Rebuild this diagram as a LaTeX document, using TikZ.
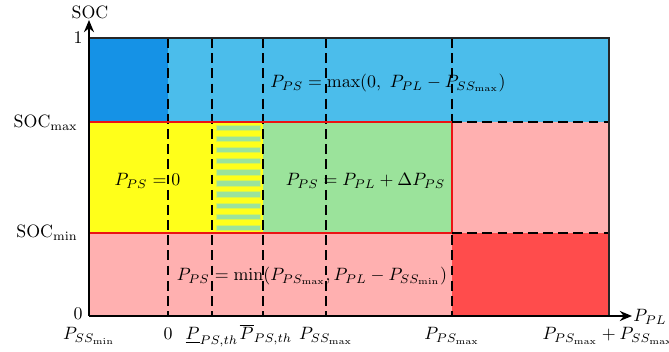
\documentclass[tikz,border=0pt]{standalone}
\usetikzlibrary{arrows.meta}
\definecolor{dblue}{RGB}{21,146,230}
\definecolor{lblue}{RGB}{75,189,235}
\definecolor{yel}{RGB}{255,255,26}
\definecolor{grn}{RGB}{155,227,155}
\definecolor{pnk}{RGB}{255,176,176}
\definecolor{rd}{RGB}{255,76,76}
\definecolor{bord}{RGB}{235,20,20}
\tikzset{
  dashline/.style={black, line width=0.65pt, dash pattern=on 5.5pt off 3pt},
  axisline/.style={black, line width=1.5pt, -{Stealth[length=6.8pt,width=5.6pt]}},
  frameline/.style={black!85, line width=1.1pt},
  redline/.style={bord, line width=1.1pt},
  bar/.style={fill=grn, draw=yel!60!grn, line width=0.4pt},
  lab/.style={inner sep=0pt},
}
\begin{document}
\begin{tikzpicture}[x=0.56pt,y=-0.56pt]
\useasboundingbox (0,0) rectangle (669,352);
% fills
\fill[lblue] (89,38) rectangle (609,122);
\fill[dblue] (89,38) rectangle (168,122);
\fill[yel] (89,122) rectangle (263,233);
\fill[grn] (263,122) rectangle (452,233);
\fill[pnk] (452,122) rectangle (609,233);
\fill[pnk] (89,233) rectangle (452,316);
\fill[rd] (452,233) rectangle (609,316);
% stripes
\foreach \y in {125,136,147,158,169.5,180.5,191.5,203,214,225}
  \filldraw[bar] (216,\y) rectangle (260,\y+5.5);
% coordinates
\coordinate (O) at (89,316);
\coordinate (Ytop) at (89,20);
\coordinate (Xend) at (632,316);
\coordinate (TL) at (89,38);
\coordinate (TR) at (609,38);
\coordinate (BR) at (609,316);
% texts
\node[lab] (f1) at (388,83) {$P_{PS}=\max(0,\ P_{PL}-P_{SS_{\max}})$};
\node[lab] (f2) at (147.5,181) {$P_{PS}=0$};
\node[lab] (f3) at (365.5,181) {$P_{PS}=P_{PL}+\Delta P_{PS}$};
\node[lab] (f4) at (312,276) {$P_{PS}=\min(P_{PS_{\max}},P_{PL}-P_{SS_{\min}})$};
% dashed verticals
\foreach \x in {168,212,263,326,452}
  \draw[dashline] (\x,38) -- (\x,316);
% red border
\draw[redline] (89,122) rectangle (452,233);
\draw[dashline] (452,122) -- (609,122);
\draw[dashline] (452,233) -- (609,233);
% frame
\draw[frameline] (TL) -- (TR) -- (BR);
% axes
\draw[axisline] (O) -- (Ytop);
\draw[axisline] (O) -- (Xend);
% axis labels
\node[lab, anchor=base] (soc) at (90,19) {SOC};
\node[lab, anchor=base west] (ppl) at (633,322) {$P_{PL}$};
\node[lab, anchor=east] (y1) at (83,38) {1};
\node[lab, anchor=east] (ymax) at (78,123) {SOC$_{\max}$};
\node[lab, anchor=east] (ymin) at (78,233) {SOC$_{\min}$};
\node[lab, anchor=east] (y0) at (83,314) {0};
\node[lab, anchor=base] (x1) at (89,340) {$P_{SS_{\min}}$};
\node[lab, anchor=base] (x2) at (168,340) {0};
\node[lab, anchor=base] (x3) at (212,340) {$\underline{P}_{PS,th}$};
\node[lab, anchor=base] (x4) at (266,340) {$\overline{P}_{PS,th}$};
\node[lab, anchor=base] (x5) at (326,340) {$P_{SS_{\max}}$};
\node[lab, anchor=base] (x6) at (452,340) {$P_{PS_{\max}}$};
\node[lab, anchor=base] (x7) at (608,340) {$P_{PS_{\max}}+P_{SS_{\max}}$};
\end{tikzpicture}
\end{document}
